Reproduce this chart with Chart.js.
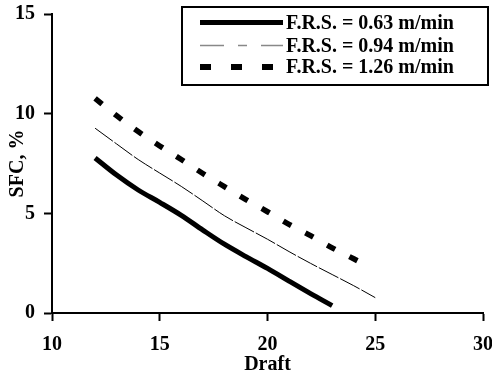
<!DOCTYPE html>
<html><head><meta charset="utf-8">
<script src="https://cdn.jsdelivr.net/npm/chart.js@4"></script>
<style>html,body{margin:0;padding:0;background:#fff}#wrap{width:492px;height:377px;position:relative}</style>
</head><body><div id="wrap"><canvas id="c"></canvas></div>
<script>
// ---- data ----
const seriesLabels = ['F.R.S. = 0.63 m/min', 'F.R.S. = 0.94 m/min', 'F.R.S. = 1.26 m/min'];
const draft1 = [12, 13, 14, 15, 16, 17, 18, 19, 20, 21, 22, 23];
const sfc1   = [7.78, 6.92, 6.17, 5.55, 4.9, 4.16, 3.45, 2.83, 2.24, 1.6, 0.97, 0.37];
const draft2 = [12, 13, 14, 15, 16, 17, 18, 19, 20, 21, 22, 23, 24, 25];
const sfc2   = [9.27, 8.48, 7.7, 7.02, 6.35, 5.62, 4.88, 4.28, 3.7, 3.08, 2.49, 1.93, 1.37, 0.77];
const draft3 = [12, 13, 14, 15, 16, 17, 18, 19, 20, 21, 22, 23, 24, 24.3];
const sfc3   = [10.77, 9.9, 9.1, 8.38, 7.7, 7.0, 6.34, 5.69, 5.08, 4.45, 3.88, 3.27, 2.72, 2.55];
const xTickValues = [10, 15, 20, 25, 30];
const yTickValues = [0, 5, 10, 15];

const FONT = {family: '"Liberation Serif", "Times New Roman", serif', size: 20, weight: 'bold'};
const pts = (xs, ys) => xs.map((x, i) => ({x: x, y: ys[i]}));

const legendBox = {
  id: 'legendBox',
  afterDraw(chart) {
    const ctx = chart.ctx;
    ctx.save();
    const bx = 182, by = 7, bw = 306, bh = 78;
    ctx.fillStyle = '#fff';
    ctx.fillRect(bx, by, bw, bh);
    ctx.lineWidth = 2;
    ctx.strokeStyle = '#000';
    ctx.setLineDash([]);
    ctx.strokeRect(bx, by, bw, bh);
    const rows = [22.5, 45.5, 67];
    chart.data.datasets.forEach((ds, i) => {
      const y = rows[i];
      ctx.beginPath();
      ctx.lineWidth = ds.legendWidth;
      ctx.strokeStyle = ds.legendColor;
      ctx.lineCap = 'butt';
      ctx.setLineDash(ds.legendDash);
      ctx.moveTo(200, y);
      ctx.lineTo(283, y);
      ctx.stroke();
      ctx.setLineDash([]);
      ctx.fillStyle = '#000';
      ctx.font = 'bold 20px "Liberation Serif", "Times New Roman", serif';
      ctx.textBaseline = 'middle';
      ctx.textAlign = 'left';
      ctx.fillText(ds.label, 286, y + 1);
    });
    ctx.restore();
  }
};

new Chart(document.getElementById('c'), {
  type: 'line',
  data: {
    datasets: [
      {label: seriesLabels[0], data: pts(draft1, sfc1), borderColor: '#000', borderWidth: 5,
       borderCapStyle: 'butt', cubicInterpolationMode: 'monotone', pointRadius: 0,
       legendWidth: 5, legendColor: '#000', legendDash: []},
      {label: seriesLabels[1], data: pts(draft2, sfc2), borderColor: '#000', borderWidth: 1,
       borderDash: [22, 2], cubicInterpolationMode: 'monotone', pointRadius: 0,
       legendWidth: 1.5, legendColor: '#888', legendDash: [24, 14, 9, 14]},
      {label: seriesLabels[2], data: pts(draft3, sfc3), borderColor: '#000', borderWidth: 5.5,
       borderDash: [9, 16], borderCapStyle: 'butt', cubicInterpolationMode: 'monotone', pointRadius: 0,
       legendWidth: 6, legendColor: '#000', legendDash: [11, 20]}
    ]
  },
  options: {
    responsive: true,
    maintainAspectRatio: false,
    animation: false,
    devicePixelRatio: 1,
    layout: {padding: {top: 14, right: 9, left: 0, bottom: 0}},
    plugins: {legend: {display: false}, tooltip: {enabled: false}},
    scales: {
      x: {
        type: 'linear', min: 10, max: 30,
        afterBuildTicks(s) { s.ticks = xTickValues.map(v => ({value: v})); },
        afterFit(s) { s.height = 64; s.paddingLeft = 0; s.paddingRight = 0; },
        ticks: {font: FONT, color: '#000', padding: 12, maxRotation: 0},
        grid: {drawOnChartArea: false, drawTicks: true, tickLength: 8, tickWidth: 2, color: '#000'},
        border: {display: true, width: 2, color: '#000'},
        title: {display: true, text: 'Draft', font: FONT, color: '#000', padding: 0}
      },
      y: {
        type: 'linear', min: 0, max: 15,
        afterBuildTicks(s) { s.ticks = yTickValues.map(v => ({value: v})); },
        afterFit(s) { s.width = 52; s.paddingTop = 0; s.paddingBottom = 0; },
        ticks: {font: FONT, color: '#000', padding: 9},
        grid: {drawOnChartArea: false, drawTicks: true, tickLength: 8, tickWidth: 2, color: '#000'},
        border: {display: true, width: 2, color: '#000'},
        title: {display: true, text: 'SFC, %', font: FONT, color: '#000', padding: {top: 6, bottom: 0}}
      }
    }
  },
  plugins: [legendBox]
});
</script>
</body></html>
